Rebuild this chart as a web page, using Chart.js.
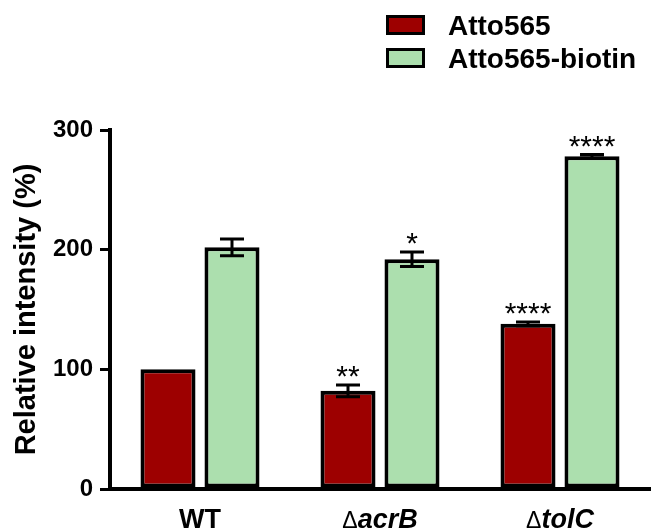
<!DOCTYPE html>
<html>
<head>
<meta charset="utf-8">
<script src="https://cdn.jsdelivr.net/npm/chart.js@4"></script>
<style>
  body { margin: 0; background: #fff; }
</style>
</head>
<body>
<canvas id="intensityChart" width="658" height="532"></canvas>
<script>
// strains on the x axis
const strains = ["WT", "\u0394acrB", "\u0394tolC"];
const seriesNames = ["Atto565", "Atto565-biotin"];
// mean relative intensity (%)
const atto565 = [100, 82, 138];
const atto565Biotin = [202, 192, 278];
// error bars (+/-)
const atto565Err = [0, 5, 1.5];
const atto565BiotinErr = [7, 6, 1.5];
// significance vs WT
const atto565Stars = ["", "**", "****"];
const atto565BiotinStars = ["", "*", "****"];
const yTicks = [0, 100, 200, 300];

const FONT = "'Liberation Sans', Arial, sans-serif";

// error bars and stars on top of the bars
const errorBars = {
  id: "errorBars",
  afterDatasetsDraw(chart) {
    const ctx = chart.ctx;
    const y = chart.scales.y;
    chart.data.datasets.forEach((ds, i) => {
      chart.getDatasetMeta(i).data.forEach((bar, j) => {
        const v = ds.data[j];
        const e = ds.errors[j];
        const top = y.getPixelForValue(v + e);
        ctx.save();
        ctx.strokeStyle = "#000";
        ctx.lineWidth = 3;
        if (e > 0) {
          const bot = y.getPixelForValue(v - e);
          ctx.beginPath();
          ctx.moveTo(bar.x, top);
          ctx.lineTo(bar.x, bot);
          ctx.moveTo(bar.x - 12, top);
          ctx.lineTo(bar.x + 12, top);
          ctx.moveTo(bar.x - 12, bot);
          ctx.lineTo(bar.x + 12, bot);
          ctx.stroke();
        }
        if (ds.stars[j]) {
          ctx.fillStyle = "#000";
          ctx.font = "30px " + FONT;
          ctx.textAlign = "center";
          ctx.textBaseline = "alphabetic";
          ctx.fillText(ds.stars[j], bar.x, top + 1);
        }
        ctx.restore();
      });
    });
  }
};

// x labels: delta sign plus italic gene name
const strainLabels = {
  id: "strainLabels",
  afterDraw(chart) {
    const ctx = chart.ctx;
    const x = chart.scales.x;
    const base = 528;
    const deltaFont = "23px " + FONT;
    const plainFont = "bold 27px " + FONT;
    const italFont = "italic bold 27px " + FONT;
    ctx.save();
    ctx.fillStyle = "#000";
    ctx.textBaseline = "alphabetic";
    ctx.textAlign = "left";
    strains.forEach((s, i) => {
      const cx = x.getPixelForTick(i);
      if (s.startsWith("\u0394")) {
        const rest = s.slice(1);
        ctx.font = deltaFont;
        const w1 = ctx.measureText("\u0394").width;
        ctx.font = italFont;
        const w2 = ctx.measureText(rest).width;
        let left = cx - (w1 + w2) / 2;
        ctx.font = deltaFont;
        ctx.fillText("\u0394", left, base);
        ctx.font = italFont;
        ctx.fillText(rest, left + w1, base);
      } else {
        ctx.font = plainFont;
        ctx.textAlign = "center";
        ctx.fillText(s, cx, base);
        ctx.textAlign = "left";
      }
    });
    ctx.restore();
  }
};

// stacked legend, top right
const stackedLegend = {
  id: "stackedLegend",
  afterDraw(chart) {
    const ctx = chart.ctx;
    ctx.save();
    chart.data.datasets.forEach((ds, i) => {
      const top = 15 + i * 33;
      ctx.fillStyle = "#000";
      ctx.fillRect(386, top, 39, 20);
      ctx.fillStyle = ds.backgroundColor;
      ctx.fillRect(389, top + 3, 33, 14);
      ctx.fillStyle = "#000";
      ctx.font = "bold 28px " + FONT;
      ctx.textBaseline = "alphabetic";
      ctx.fillText(ds.label, 448, top + 20);
    });
    ctx.restore();
  }
};

new Chart(document.getElementById("intensityChart"), {
  type: "bar",
  data: {
    labels: strains,
    datasets: [
      {
        label: seriesNames[0],
        data: atto565,
        errors: atto565Err,
        stars: atto565Stars,
        backgroundColor: "#9d0000"
      },
      {
        label: seriesNames[1],
        data: atto565Biotin,
        errors: atto565BiotinErr,
        stars: atto565BiotinStars,
        backgroundColor: "#acdfae"
      }
    ]
  },
  options: {
    responsive: false,
    devicePixelRatio: 1,
    animation: false,
    layout: { padding: { top: 130, right: 8, left: 0, bottom: 0 } },
    datasets: {
      bar: {
        borderColor: "#000",
        borderWidth: 4,
        borderSkipped: false,
        categoryPercentage: 0.711,
        barPercentage: 0.86
      }
    },
    plugins: {
      legend: { display: false },
      tooltip: { enabled: false }
    },
    scales: {
      x: {
        grid: { display: false },
        border: { display: true, color: "#000", width: 4 },
        ticks: { display: false },
        afterFit(s) { s.height = 43; }
      },
      y: {
        min: 0,
        max: 300,
        afterBuildTicks(s) { s.ticks = yTicks.map(v => ({ value: v })); },
        grid: {
          display: true,
          drawOnChartArea: false,
          drawTicks: true,
          tickLength: 10,
          tickWidth: 3,
          tickColor: "#000",
          lineWidth: 3,
          color: "#000"
        },
        border: { display: true, color: "#000", width: 4 },
        ticks: {
          color: "#000",
          padding: 7,
          font: { family: FONT, size: 24, weight: "bold" }
        },
        title: {
          display: true,
          text: "Relative intensity (%)",
          color: "#000",
          padding: { top: 10, bottom: 0 },
          font: { family: FONT, size: 29, weight: "bold" }
        },
        afterFit(s) { s.width = 110; }
      }
    }
  },
  plugins: [errorBars, strainLabels, stackedLegend]
});
</script>
</body>
</html>
